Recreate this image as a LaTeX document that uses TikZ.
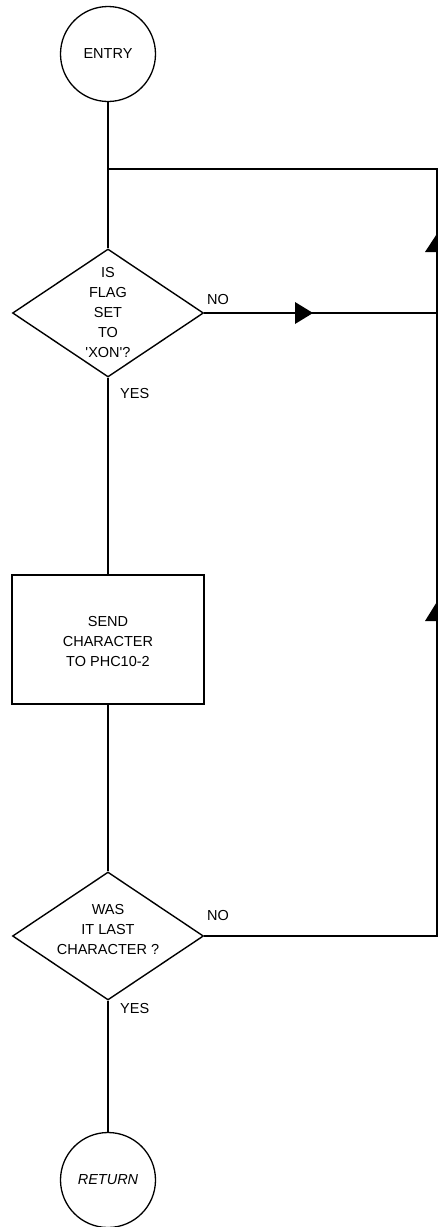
\documentclass[tikz,border=0pt]{standalone}
\usepackage{fontspec}
\setmainfont{Liberation Sans}[Ligatures=TeXOff]
\usetikzlibrary{shapes.geometric}
\newcommand\flowfont{\fontsize{14.5}{20}\selectfont}
\begin{document}
\begin{tikzpicture}[x=1pt,y=-1pt,
  ln/.style={line width=1.7pt},
  term/.style={circle,draw,line width=1.3pt,minimum size=95pt,inner sep=0pt,font=\flowfont},
  dia/.style={diamond,draw,line width=1.4pt,minimum width=191pt,minimum height=128pt,inner sep=0pt},
  proc/.style={rectangle,draw,line width=1.4pt,minimum width=192pt,minimum height=129pt,inner sep=0pt},
  txt/.style={align=center,font=\flowfont,inner sep=0pt},
  lbl/.style={anchor=west,font=\flowfont,inner sep=0pt},
  tri/.style={fill=black,draw=none}]
\useasboundingbox (0,0) rectangle (438,1227);
\clip (0,0) rectangle (438,1227);

% nodes
\node[term] (entry) at (108,54) {ENTRY};
\node[dia] (d1) at (108,313) {};
\node[txt] (t1) at (108,312.5) {IS\\FLAG\\SET\\TO\\'XON'?};
\node[proc] (send) at (108,639.5) {};
\node[txt] (t2) at (108,641.5) {SEND\\CHARACTER\\TO PHC10-2};
\node[dia] (d2) at (108,936) {};
\node[txt] (t3) at (108,929.5) {WAS\\IT LAST\\CHARACTER ?};
\node[term,font=\flowfont\itshape] (ret) at (108,1180) {RETURN};

% labels
\node[lbl] (no1) at (207,300) {NO};
\node[lbl] (yes1) at (120,393.5) {YES};
\node[lbl] (no2) at (207,915) {NO};
\node[lbl] (yes2) at (120,1008) {YES};

% helper coordinates
\coordinate (jn) at (108,169);
\coordinate (rt) at (436.8,169);
\coordinate (rm) at (436.8,313);
\coordinate (rb) at (436.8,936);

% connectors
\draw[ln] (entry.south) -- (d1.north);
\draw[ln] (d1.south) -- (send.north);
\draw[ln] (send.south) -- (d2.north);
\draw[ln] (d2.south) -- (ret.north);
\draw[ln] (d1.east) -- (rm);
\draw[ln] (d2.east) -- (rb) -- (rt) -- (jn);

% arrowheads
\fill[tri] (295,302) -- (313,313) -- (295,324) -- cycle;
\fill[tri] (425,252) -- (436.8,234) -- (448.6,252) -- cycle;
\fill[tri] (425,621) -- (436.8,602) -- (448.6,621) -- cycle;
\end{tikzpicture}
\end{document}
